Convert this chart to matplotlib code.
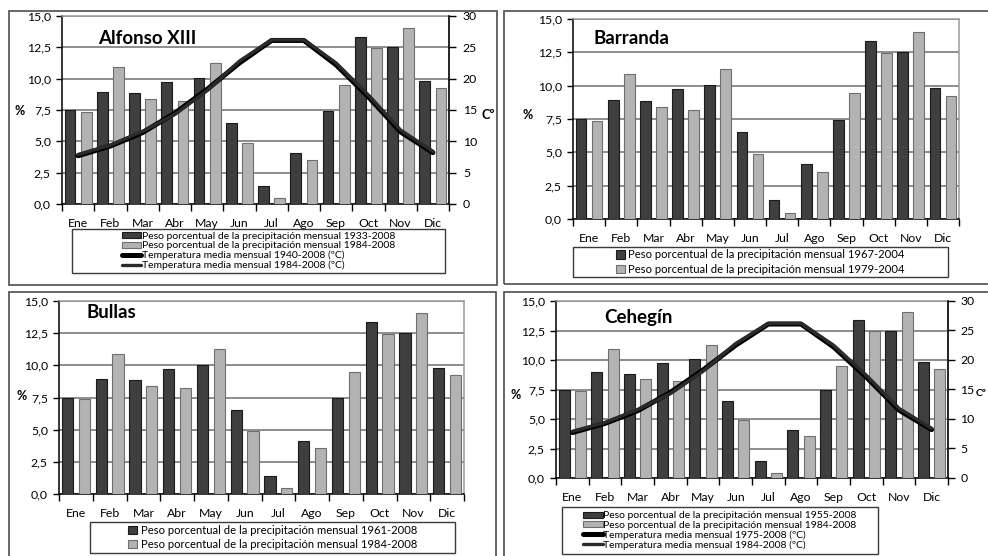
import matplotlib
matplotlib.use("Agg")
import matplotlib.pyplot as plt
from matplotlib.patches import Rectangle
from matplotlib.ticker import FuncFormatter
import numpy as np

plt.rcParams['font.family'] = ['Lato', 'DejaVu Sans']

months = ["Ene", "Feb", "Mar", "Abr", "May", "Jun", "Jul", "Ago", "Sep", "Oct", "Nov", "Dic"]
precip_long = [7.5, 8.95, 8.85, 9.75, 10.05, 6.5, 1.4, 4.1, 7.45, 13.35, 12.5, 9.8]
precip_recent = [7.38, 10.9, 8.4, 8.2, 11.28, 4.9, 0.45, 3.55, 9.48, 12.43, 14.05, 9.25]
temp_long = [7.7, 9.25, 11.4, 14.5, 18.3, 22.5, 26.1, 26.1, 22.2, 17.1, 11.5, 8.2]
temp_recent = [7.9, 9.4, 11.6, 14.3, 18.1, 22.8, 26.2, 26.2, 22.5, 17.4, 11.8, 8.4]
pct_ticks = [0.0, 2.5, 5.0, 7.5, 10.0, 12.5, 15.0]
temp_ticks = [0, 5, 10, 15, 20, 25, 30]

stations = ["Alfonso XIII", "Barranda", "Bullas", "Cehegín"]
labels_alfonso = ["Peso porcentual de la precipitación mensual 1933-2008",
                  "Peso porcentual de la precipitación mensual 1984-2008",
                  "Temperatura media mensual 1940-2008 (ºC)",
                  "Temperatura media mensual 1984-2008 (ºC)"]
labels_barranda = ["Peso porcentual de la precipitación mensual 1967-2004",
                   "Peso porcentual de la precipitación mensual 1979-2004"]
labels_bullas = ["Peso porcentual de la precipitación mensual 1961-2008",
                 "Peso porcentual de la precipitación mensual 1984-2008"]
labels_cehegin = ["Peso porcentual de la precipitación mensual 1955-2008",
                  "Peso porcentual de la precipitación mensual 1984-2008",
                  "Temperatura media mensual 1975-2008 (ºC)",
                  "Temperatura media mensual 1984-2008 (ºC)"]

W, H = 988, 556
fig = plt.figure(figsize=(W / 100, H / 100), dpi=100)
fig.patch.set_facecolor("white")

def fx(x):
    return x / W

def fy(y):
    return 1 - y / H

def frame(x0, y0, x1, y1, color="#5a5a5a", lw=1.3):
    fig.patches.append(Rectangle((fx(x0), fy(y1)), fx(x1) - fx(x0), fy(y0) - fy(y1),
                                 transform=fig.transFigure, fill=False,
                                 edgecolor=color, lw=lw, zorder=0))

# panel frames
frame(9, 11, 497, 285)
frame(504, 11, 995, 284)
frame(9, 292, 496, 565)
frame(504, 292, 995, 565)

DARK = "#3f3f3f"
LIGHT = "#b3b3b3"
TICK_FS = 8.8

pct_fmt = FuncFormatter(lambda v, p: f"{v:.1f}".replace(".", ","))

def panel(box, title, title_xy, labels, temps, pct_xy, c_xy, c_fs, leg_box, leg_fs, square, rpad=5):
    x0, y0, x1, y1 = box
    ax = fig.add_axes([fx(x0), fy(y1), fx(x1) - fx(x0), fy(y0) - fy(y1)])
    x = np.arange(len(months))
    b1 = ax.bar(x - 0.25, precip_long, width=0.33, color=DARK, edgecolor="#1a1a1a", lw=0.8, zorder=3)
    b2 = ax.bar(x + 0.25, precip_recent, width=0.33, color=LIGHT, edgecolor="#6e6e6e", lw=0.8, zorder=3)
    ax.set_xlim(-0.5, 11.5)
    ax.set_ylim(0, 15)
    ax.set_yticks(pct_ticks)
    ax.yaxis.set_major_formatter(pct_fmt)
    ax.set_xticks(x)
    ax.set_xticklabels(months)
    ax.set_xticks(np.arange(-0.5, 12, 1), minor=True)
    ax.tick_params(axis="x", which="major", length=0, pad=10, labelsize=TICK_FS, colors="black")
    ax.tick_params(axis="x", which="minor", length=5, width=1, direction="out", color="black")
    ax.tick_params(axis="y", length=4, width=1, direction="out", labelsize=TICK_FS, pad=4)
    ax.yaxis.grid(True, color="#7a7a7a", lw=1.2, zorder=0)
    ax.set_axisbelow(True)
    for s in ["left", "bottom"]:
        ax.spines[s].set_color("black")
        ax.spines[s].set_linewidth(1.1)
    for s in ["top", "right"]:
        ax.spines[s].set_color("#9a9a9a")
        ax.spines[s].set_linewidth(1.1)
    handles = [b1, b2]
    if temps:
        ax2 = ax.twinx()
        l1, = ax2.plot(x, temp_long, color="black", lw=3.6, zorder=5, solid_capstyle="round")
        l2, = ax2.plot(x, temp_recent, color="#2b2b2b", lw=2.4, zorder=6, solid_capstyle="round")
        ax2.set_ylim(0, 30)
        ax2.set_yticks(temp_ticks)
        ax2.tick_params(axis="y", length=5, width=1, direction="out", labelsize=TICK_FS, pad=rpad)
        ax2.spines["right"].set_color("black")
        ax2.spines["right"].set_linewidth(1.1)
        for s in ["top", "left", "bottom"]:
            ax2.spines[s].set_visible(False)
        handles += [l1, l2]
        fig.text(fx(c_xy[0]), fy(c_xy[1]), "Cº", fontsize=c_fs, fontweight="bold", ha="left", va="center")
    fig.text(fx(title_xy[0]), fy(title_xy[1]), title, fontsize=13.5, fontweight="bold", ha="left", va="center")
    fig.text(fx(pct_xy[0]), fy(pct_xy[1]), "%", fontsize=9, fontweight="bold", ha="center", va="center")
    lx0, ly0, lx1, ly1 = leg_box
    frame(lx0, ly0, lx1, ly1, color="#3a3a3a", lw=1.0)
    if square:
        kw = dict(handlelength=0.75, handleheight=0.75, handletextpad=0.35, labelspacing=0.3)
    else:
        kw = dict(handlelength=1.9, handleheight=0.5, handletextpad=0.05, labelspacing=0.04)
    fig.legend(handles, labels, loc="center", bbox_to_anchor=(fx((lx0 + lx1) / 2), fy((ly0 + ly1) / 2)),
               bbox_transform=fig.transFigure, frameon=False, fontsize=leg_fs,
               borderpad=0, borderaxespad=0, **kw)
    return ax

panel((62, 16, 449, 204), stations[0], (98, 38), labels_alfonso, True, (20, 111), (481, 115), 9,
      (72, 229, 445, 273), 7.5, False)
panel((573, 19, 959, 219), stations[1], (593, 39), labels_barranda, False, (528, 115), None, 9,
      (573, 247, 948, 277), 8.1, True)
panel((59, 301, 464, 494), stations[2], (86, 312), labels_bullas, False, (22, 396), None, 9,
      (90, 522, 455, 553), 8.1, True)
panel((556, 301, 948, 478), stations[3], (604, 317), labels_cehegin, True, (516, 395), (976, 394), 7.5,
      (562, 507, 878, 554), 7.5, False, rpad=4)

fig.savefig("out.png", dpi=100, facecolor="white")
